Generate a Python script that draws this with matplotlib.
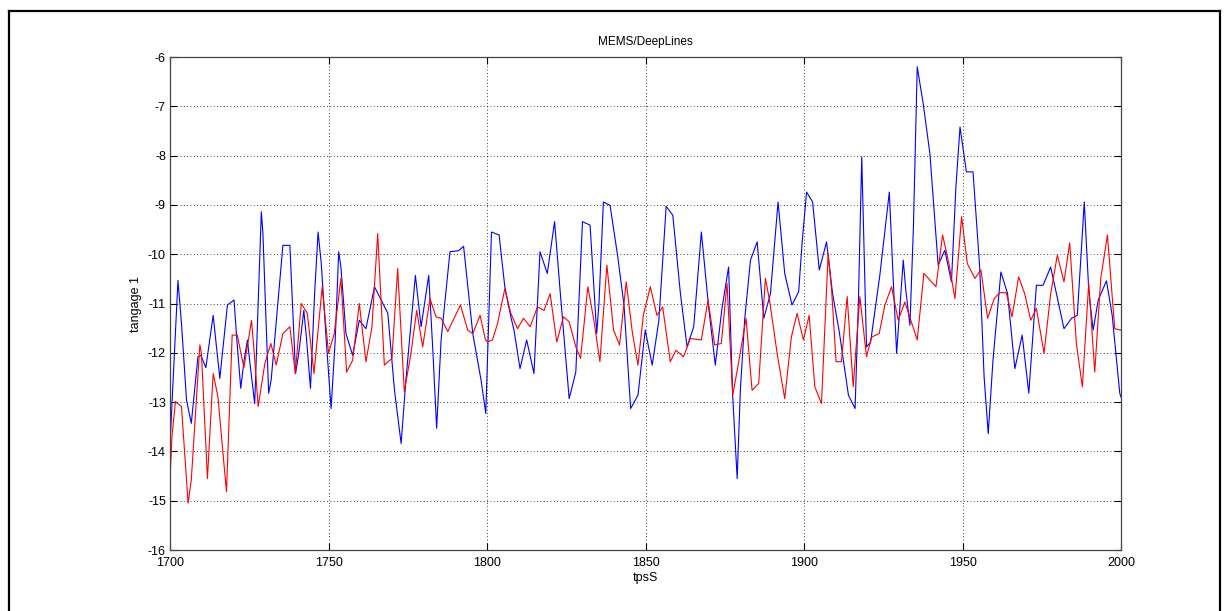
import matplotlib
matplotlib.use("Agg")
from matplotlib import pyplot as plt
from matplotlib.lines import Line2D
import numpy as np

plt.rcParams['font.family'] = ['Liberation Sans', 'DejaVu Sans']
plt.rcParams['axes.unicode_minus'] = False

# MEMS pitch signal (blue)
t_mems = [1700.0, 1702.5, 1703.6, 1705.2, 1706.7, 1708.8, 1709.7, 1711.3, 1713.6, 1715.7,
          1718.1, 1720.2, 1721.0, 1722.3, 1723.3, 1724.4, 1725.1, 1726.7, 1728.8, 1729.3,
          1731.1, 1731.9, 1735.6, 1737.8, 1739.6, 1740.6, 1742.2, 1743.0, 1744.3, 1745.6,
          1746.7, 1747.7, 1749.2, 1750.8, 1752.1, 1753.2, 1753.9, 1755.5, 1757.6, 1759.7,
          1761.8, 1764.5, 1766.6, 1768.7, 1770.8, 1772.9, 1774.4, 1777.4, 1779.2, 1781.6,
          1782.9, 1784.1, 1785.5, 1788.3, 1791.0, 1792.6, 1795.5, 1798.1, 1799.6, 1801.4,
          1803.8, 1805.6, 1807.5, 1808.5, 1810.4, 1812.5, 1814.8, 1816.7, 1819.0, 1821.3,
          1823.2, 1825.9, 1828.0, 1830.1, 1832.5, 1834.6, 1835.3, 1836.7, 1838.8, 1841.1,
          1843.2, 1845.3, 1847.6, 1849.9, 1852.1, 1854.2, 1856.5, 1858.6, 1861.0, 1863.1,
          1865.2, 1867.6, 1869.9, 1872.0, 1874.1, 1876.2, 1877.5, 1878.9, 1879.9, 1881.3,
          1883.1, 1885.2, 1887.3, 1889.4, 1891.8, 1893.9, 1896.2, 1898.3, 1899.4, 1900.8,
          1902.7, 1904.8, 1907.1, 1909.0, 1911.1, 1914.0, 1916.1, 1917.1, 1918.2, 1919.7,
          1921.0, 1923.9, 1926.9, 1927.9, 1929.2, 1931.3, 1932.1, 1933.4, 1934.5, 1935.7,
          1937.6, 1939.7, 1942.3, 1944.4, 1946.5, 1947.9, 1949.2, 1951.2, 1953.3, 1955.4,
          1956.8, 1958.1, 1959.6, 1962.1, 1964.2, 1966.5, 1968.8, 1970.9, 1973.3, 1975.4,
          1977.8, 1979.6, 1982.0, 1984.4, 1986.2, 1988.4, 1989.8, 1991.2, 1992.8, 1995.4,
          1997.2, 1999.6, 2000.0]
mems = [-13.84, -10.53, -11.40, -12.96, -13.43, -12.08, -12.05, -12.30, -11.24, -12.52,
        -11.03, -10.93, -11.68, -12.72, -12.18, -11.74, -12.15, -13.03, -9.14, -9.58,
        -12.82, -12.55, -9.82, -9.82, -12.42, -12.01, -11.14, -11.68, -12.72, -10.80,
        -9.55, -10.19, -11.68, -13.13, -11.74, -9.95, -10.26, -11.61, -12.05, -11.34,
        -11.51, -10.66, -10.93, -11.20, -12.76, -13.84, -12.55, -10.43, -11.47, -10.43,
        -11.95, -13.53, -11.74, -9.95, -9.93, -9.84, -11.61, -12.55, -13.23, -9.55,
        -9.61, -10.66, -11.27, -11.54, -12.32, -11.74, -12.42, -9.95, -10.39, -9.34,
        -10.86, -12.93, -12.39, -9.34, -9.41, -11.61, -11.00, -8.94, -9.01, -9.99,
        -11.03, -13.13, -12.86, -11.54, -12.25, -11.34, -9.03, -9.21, -10.80, -11.88,
        -11.47, -9.55, -11.07, -12.25, -11.10, -10.26, -12.89, -14.55, -12.76, -11.30,
        -10.12, -9.75, -11.30, -10.80, -8.94, -10.39, -11.03, -10.76, -9.75, -8.74,
        -8.94, -10.32, -9.75, -10.80, -11.57, -12.86, -13.13, -11.07, -8.03, -11.88,
        -11.78, -10.43, -8.74, -10.19, -12.01, -10.12, -10.73, -11.44, -9.45, -6.20,
        -6.95, -7.96, -10.22, -9.92, -10.56, -8.64, -7.42, -8.33, -8.33, -10.26,
        -12.49, -13.64, -12.15, -10.36, -10.80, -12.32, -11.64, -12.82, -10.63, -10.63,
        -10.26, -10.80, -11.51, -11.30, -11.24, -8.94, -10.73, -11.54, -10.93, -10.54,
        -11.24, -12.82, -12.90]

# DeepLines pitch signal (red)
t_dl = [1700.0, 1700.6, 1701.7, 1703.6, 1705.7, 1706.7, 1709.4, 1709.9, 1711.8, 1713.6,
        1715.1, 1717.8, 1719.6, 1721.2, 1723.3, 1725.7, 1726.5, 1727.8, 1729.9, 1731.8,
        1733.5, 1735.6, 1737.8, 1739.5, 1741.4, 1743.3, 1745.4, 1748.0, 1750.0, 1751.8,
        1753.9, 1755.7, 1757.6, 1759.7, 1761.8, 1763.7, 1765.5, 1767.6, 1770.0, 1771.8,
        1773.9, 1776.0, 1777.8, 1779.7, 1782.0, 1783.9, 1785.5, 1787.6, 1791.6, 1793.9,
        1795.5, 1797.8, 1799.5, 1800.1, 1801.7, 1803.3, 1805.6, 1807.5, 1809.6, 1811.5,
        1813.6, 1815.9, 1818.0, 1819.9, 1822.0, 1824.1, 1825.9, 1828.0, 1829.5, 1831.8,
        1833.7, 1835.6, 1837.8, 1839.9, 1841.8, 1843.9, 1845.8, 1847.6, 1849.3, 1851.5,
        1853.6, 1855.4, 1857.8, 1859.6, 1862.0, 1864.1, 1867.6, 1869.7, 1871.8, 1873.9,
        1875.7, 1877.5, 1879.4, 1881.7, 1883.6, 1885.7, 1887.8, 1889.1, 1891.5, 1893.9,
        1896.0, 1897.8, 1899.8, 1901.6, 1903.4, 1905.5, 1907.6, 1908.7, 1910.1, 1911.8,
        1913.6, 1915.5, 1917.6, 1919.7, 1921.3, 1923.7, 1925.5, 1927.6, 1929.7, 1931.8,
        1935.7, 1937.8, 1941.6, 1943.7, 1945.8, 1947.6, 1949.7, 1951.5, 1953.9, 1955.8,
        1957.9, 1960.0, 1961.7, 1963.8, 1965.6, 1967.7, 1969.6, 1971.5, 1973.3, 1975.7,
        1977.8, 1979.9, 1982.0, 1983.8, 1985.9, 1987.8, 1989.8, 1991.7, 1993.6, 1995.7,
        1998.0, 2000.0]
deeplines = [-14.55, -13.70, -12.99, -13.09, -15.05, -14.58, -11.84, -12.01, -14.55, -12.42,
             -12.89, -14.82, -11.64, -11.64, -12.30, -11.34, -11.95, -13.09, -12.22, -11.81,
             -12.25, -11.61, -11.47, -12.42, -11.00, -11.20, -12.42, -10.66, -12.01, -11.61,
             -10.49, -12.39, -12.15, -11.00, -12.18, -11.47, -9.58, -12.25, -12.11, -10.29,
             -12.79, -12.01, -11.14, -11.88, -10.90, -11.27, -11.30, -11.57, -11.03, -11.54,
             -11.61, -11.24, -11.74, -11.78, -11.74, -11.41, -10.70, -11.20, -11.51, -11.30,
             -11.47, -11.07, -11.14, -10.80, -11.78, -11.27, -11.37, -11.88, -12.11, -10.66,
             -11.34, -12.18, -10.22, -11.54, -11.84, -10.56, -11.57, -12.25, -11.24, -10.66,
             -11.24, -11.07, -12.18, -11.95, -12.08, -11.71, -11.74, -10.93, -11.84, -11.81,
             -10.59, -12.86, -12.18, -11.30, -12.76, -12.62, -10.49, -10.93, -12.01, -12.93,
             -11.68, -11.20, -11.74, -11.24, -12.69, -13.03, -9.99, -10.73, -12.18, -12.18,
             -10.86, -12.69, -10.86, -12.08, -11.68, -11.61, -11.03, -10.66, -11.34, -10.97,
             -11.74, -10.39, -10.66, -9.61, -10.22, -10.90, -9.24, -10.19, -10.49, -10.32,
             -11.30, -10.90, -10.78, -10.78, -11.27, -10.46, -10.80, -11.34, -11.10, -12.01,
             -10.80, -10.02, -10.56, -9.77, -11.81, -12.69, -10.59, -12.39, -10.49, -9.61,
             -11.51, -11.54]

xticks = [1700, 1750, 1800, 1850, 1900, 1950, 2000]
yticks = list(range(-16, -5))

fig = plt.figure(figsize=(12.26, 6.11), dpi=100)
ax = fig.add_axes([0.1387, 0.0998, 0.7757, 0.8069])

ax.plot(t_mems, mems, color=(0, 0, 1), linewidth=0.8)
ax.plot(t_dl, deeplines, color=(1, 0, 0), linewidth=0.8)

ax.set_xlim(1700, 2000)
ax.set_ylim(-16, -6)
ax.set_xticks(xticks)
ax.set_yticks(yticks)
ax.grid(True, linestyle=(0, (1, 3)), color='k', linewidth=0.6)
ax.tick_params(direction='in', top=True, right=True, length=5, width=0.8,
               labelsize=9, pad=3)
ax.tick_params(axis='x', pad=5)
for s in ax.spines.values():
    s.set_color('#444444')
    s.set_linewidth(0.9)

ax.set_title('MEMS/DeepLines', fontsize=8.5, pad=9)
ax.set_xlabel('tpsS', fontsize=9, labelpad=2)
ax.set_ylabel('tangage 1', fontsize=9, labelpad=4)

# frame around the figure (left, top, right edges)
fx0, fx1, fy1 = 8.5 / 1226, 1219.5 / 1226, 1 - 10.5 / 611
frame = dict(color='k', linewidth=1.6, transform=fig.transFigure)
fig.add_artist(Line2D([fx0, fx0], [0, fy1], **frame))
fig.add_artist(Line2D([fx0, fx1], [fy1, fy1], **frame))
fig.add_artist(Line2D([fx1, fx1], [0, fy1], **frame))

fig.savefig('out.png', dpi=100)
plt.close(fig)
